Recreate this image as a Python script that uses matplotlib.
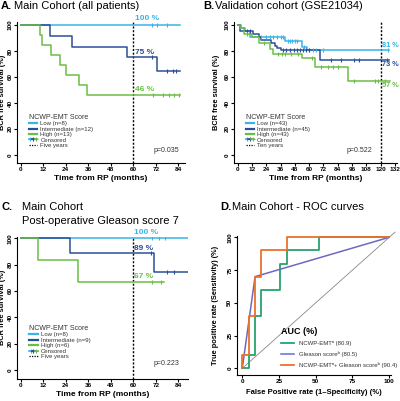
import numpy as np
import matplotlib
matplotlib.use("Agg")
import matplotlib.pyplot as plt
from matplotlib.lines import Line2D
from matplotlib.legend_handler import HandlerTuple

plt.rcParams['font.family'] = ['Liberation Sans', 'DejaVu Sans']

# colours of the three score groups
c_low = '#38b4e8'
c_mid = '#2b4f96'
c_high = '#6cbd45'

# ---- A. main cohort (all patients): drop times / survival levels, censor times
a_low_t = [0]
a_low_s = [100]
a_low_cens = [70, 72.5, 78]
a_low_end = 85

a_mid_t = [0, 15.6, 27.5, 56.5, 72.5]
a_mid_s = [100, 91.7, 83.3, 75.0, 64.3]
a_mid_cens = [70, 78, 81, 83]
a_mid_end = 85

a_high_t = [0, 10.3, 11.2, 16, 21, 24, 31, 35.3]
a_high_s = [100, 92.3, 84.6, 76.9, 69.2, 61.5, 53.8, 46.2]
a_high_cens = [70.5, 76, 79, 82, 84.5]
a_high_end = 85

# ---- B. validation cohort (GSE21034)
b_low_t = [0, 3, 6, 10, 40, 54, 58]
b_low_s = [100, 97.7, 95.3, 90.7, 88.0, 83.0, 80.8]
b_low_cens = [20, 24, 27, 30, 33, 36, 38, 42, 44, 46, 48, 50, 56, 60, 63, 66, 72, 126]
b_low_end = 127

b_mid_t = [0, 2, 13, 18, 20, 28, 31, 33, 36, 69]
b_mid_s = [100, 95.6, 93.3, 91.0, 88.6, 86.2, 84.0, 82.0, 80.4, 72.8]
b_mid_cens = [8, 10, 38, 41, 44, 47, 50, 52, 55, 57, 60, 78, 87, 98, 102, 125]
b_mid_end = 127

b_high_t = [0, 2, 5, 12, 18, 27, 30, 54, 65, 93]
b_high_s = [100, 97.7, 93.0, 90.7, 86.0, 81.4, 77.8, 74.9, 68.0, 56.7]
b_high_cens = [8, 22, 34, 37, 40, 45, 51, 62, 70, 76, 80, 84, 98, 115, 118, 124]
b_high_end = 128

# ---- C. main cohort, post-operative Gleason score 7
c_low_t = [0]
c_low_s = [100]
c_low_cens = [70, 73.5, 77]
c_low_end = 89

c_mid_t = [0, 26.3, 70.8]
c_mid_s = [100, 88.9, 74.1]
c_mid_cens = [69.5, 78, 81.5]
c_mid_end = 89

c_high_t = [0, 9.4, 30.4]
c_high_s = [100, 83.3, 66.7]
c_high_cens = [70, 75]
c_high_end = 76.5

# ---- D. ROC curves
roc_emt_fpr = [0, 4.3, 4.3, 8.7, 8.7, 13, 13, 26, 26, 30.4, 30.4, 52, 52, 100]
roc_emt_tpr = [0, 0, 10, 10, 40, 40, 60, 60, 80, 80, 90, 90, 100, 100]
roc_gl_fpr = [0, 8.7, 100]
roc_gl_tpr = [0, 70, 100]
roc_comb_fpr = [0, 0, 4.3, 4.3, 8.7, 8.7, 13, 13, 30.4, 30.4, 100]
roc_comb_tpr = [0, 10, 10, 40, 40, 70, 70, 90, 90, 100, 100]

W, H = 400, 401
fig = plt.figure(figsize=(4.0, 4.01), dpi=100)


def px_axes(l, t, r, b):
    return fig.add_axes([l / W, 1 - b / H, (r - l) / W, (b - t) / H])


def km(ax, t, s, end, cens, color):
    t = np.array(t, float)
    s = np.array(s, float)
    xs = np.append(t, end)
    ys = np.append(s, s[-1])
    ax.plot(xs, ys, drawstyle='steps-post', color=color, lw=1.1, zorder=3)
    cy = s[np.searchsorted(t, cens, side='right') - 1]
    ax.plot(cens, cy, ls='none', marker='|', ms=3.5, mew=0.8, color=color, zorder=4)


def bold_ticks(ax):
    ax.tick_params(length=2, width=0.8, pad=1.2, labelsize=4.6)
    for lab in ax.get_xticklabels():
        lab.set_fontweight('bold')
    for lab in ax.get_yticklabels():
        lab.set_fontweight('bold')
        lab.set_rotation(90)
        lab.set_va('center')
    for sp in ['top', 'right']:
        ax.spines[sp].set_visible(False)


def style_km(ax, xmax, xticks, ybottom, ytop, ylab_x):
    ax.set_xlim(xticks[0] - 0.021 * xmax, xmax)
    ax.set_ylim(ybottom, ytop)
    ax.set_xticks(xticks)
    ax.set_yticks([0, 20, 40, 60, 80, 100])
    bold_ticks(ax)
    ax.set_ylabel('BCR free survival (%)', fontsize=5.3, fontweight='bold')
    ax.yaxis.set_label_coords(ylab_x, 0.5)
    ax.set_xlabel('Time from RP (months)', fontsize=6, fontweight='bold', labelpad=2)


def km_legend(ax, labels, line_label, anchor):
    hs = [Line2D([], [], color=c_low, lw=1.6),
          Line2D([], [], color=c_mid, lw=1.6),
          Line2D([], [], color=c_high, lw=1.6)]
    cens = (Line2D([], [], color=c_low, lw=1.2, marker='+', ms=3, mew=0.8),
            Line2D([], [], color=c_mid, lw=1.2, marker='+', ms=3, mew=0.8),
            Line2D([], [], color=c_high, lw=1.2, marker='+', ms=3, mew=0.8))
    dot = Line2D([], [], color='black', lw=0.9, ls=(0, (1, 1)))
    leg = ax.legend(hs + [cens, dot], labels + ['Censored', line_label],
                    handler_map={tuple: HandlerTuple(ndivide=None, pad=0)},
                    loc='upper left', bbox_to_anchor=anchor, frameon=False,
                    fontsize=4.3, title='NCWP-EMT Score', title_fontsize=5,
                    alignment='left', labelspacing=0.05, handlelength=1.4,
                    handletextpad=0.5, borderpad=0, borderaxespad=0)
    for tx in leg.get_texts():
        tx.set_color('#333333')
    leg.get_title().set_color('#333333')


# ---------------- A
axA = px_axes(17.3, 22, 185, 163)
km(axA, a_low_t, a_low_s, a_low_end, a_low_cens, c_low)
km(axA, a_mid_t, a_mid_s, a_mid_end, a_mid_cens, c_mid)
km(axA, a_high_t, a_high_s, a_high_end, a_high_cens, c_high)
axA.axvline(60, color='black', lw=1.0, ls=(0, (1.5, 1.2)), zorder=2)
style_km(axA, 87.6, np.arange(0, 85, 12), -6.2, 102.3, -0.07)
axA.text(61, 102.5, '100 %', color=c_low, fontsize=6, fontweight='bold', va='bottom', clip_on=False)
axA.text(61, 76, '75 %', color=c_mid, fontsize=6, fontweight='bold', va='bottom')
axA.text(61, 47.5, '46 %', color=c_high, fontsize=6, fontweight='bold', va='bottom')
axA.text(84.5, 3.3, 'p=0.035', fontsize=5, ha='right', va='center', color='#333333')
km_legend(axA, ['Low (n=8)', 'Intermediate (n=12)', 'High (n=13)'], 'Five years', (0.07, 0.35))

# ---------------- B
axB = px_axes(234.3, 22, 396.7, 163)
km(axB, b_low_t, b_low_s, b_low_end, b_low_cens, c_low)
km(axB, b_mid_t, b_mid_s, b_mid_end, b_mid_cens, c_mid)
km(axB, b_high_t, b_high_s, b_high_end, b_high_cens, c_high)
axB.axvline(120, color='black', lw=1.0, ls=(0, (1.5, 1.2)), zorder=2)
style_km(axB, 133.5, np.arange(0, 133, 12), -6.2, 102.3, -0.085)
axB.text(121, 81.5, '81 %', color=c_low, fontsize=5.3, fontweight='bold', va='bottom')
axB.text(121, 72, '73 %', color=c_mid, fontsize=5.3, fontweight='bold', va='top')
axB.text(121, 56, '57 %', color=c_high, fontsize=5.3, fontweight='bold', va='top')
axB.text(113, 3.3, 'p=0.522', fontsize=5, ha='right', va='center', color='#333333')
km_legend(axB, ['Low (n=43)', 'Intermediate (n=45)', 'High (n=43)'], 'Ten years', (0.07, 0.35))

# ---------------- C
axC = px_axes(17.3, 236.7, 188, 379)
km(axC, c_low_t, c_low_s, c_low_end, c_low_cens, c_low)
km(axC, c_mid_t, c_mid_s, c_mid_end, c_mid_cens, c_mid)
km(axC, c_high_t, c_high_s, c_high_end, c_high_cens, c_high)
axC.axvline(60, color='black', lw=1.0, ls=(0, (1.5, 1.2)), zorder=2)
style_km(axC, 89.2, np.arange(0, 85, 12), -6.8, 101.2, -0.069)
axC.text(60.5, 102, '100 %', color=c_low, fontsize=6, fontweight='bold', va='bottom', clip_on=False)
axC.text(60.5, 89.5, '89 %', color=c_mid, fontsize=6, fontweight='bold', va='bottom')
axC.text(60.5, 68, '67 %', color=c_high, fontsize=6, fontweight='bold', va='bottom')
axC.text(84.5, 5.1, 'p=0.223', fontsize=5, ha='right', va='center', color='#333333')
km_legend(axC, ['Low (n=8)', 'Intermediate (n=9)', 'High (n=6)'], 'Five years', (0.07, 0.38))

# ---------------- D
axD = px_axes(236.7, 236, 390.7, 375)
axD.plot([0, 104], [0, 104], color='#888888', lw=0.6, clip_on=False, zorder=1)
l1, = axD.plot(roc_emt_fpr, roc_emt_tpr, color='#27a36d', lw=1.3, zorder=3)
l2, = axD.plot(roc_gl_fpr, roc_gl_tpr, color='#6d69c1', lw=1.1, zorder=4)
l3, = axD.plot(roc_comb_fpr, roc_comb_tpr, color='#e8722c', lw=1.3, zorder=5)
axD.set_xlim(-3.8, 101)
axD.set_ylim(-5.1, 101)
axD.set_xticks([0, 25, 50, 75, 100])
axD.set_yticks([0, 25, 50, 75, 100])
bold_ticks(axD)
axD.set_ylabel('True positive rate (Sensitivity) (%)', fontsize=5.3, fontweight='bold')
axD.yaxis.set_label_coords(-0.115, 0.5)
axD.set_xlabel('False Positive rate (1\u2013Specificity) (%)', fontsize=5.5, fontweight='bold', labelpad=3)
legD = axD.legend([l1, l2, l3],
                  ['NCWP-EMT\u1d43 (80.9)', 'Gleason score\u1d47 (80.5)',
                   'NCWP-EMT\u1d43+ Gleason score\u1d47 (90.4)'],
                  loc='upper left', bbox_to_anchor=(0.29, 0.345), frameon=False,
                  fontsize=4.3, title='AUC (%)', title_fontsize=6.5, alignment='left',
                  labelspacing=0.85, handlelength=2.1, handletextpad=0.8,
                  borderpad=0, borderaxespad=0)
legD.get_title().set_fontweight('bold')
for tx in legD.get_texts():
    tx.set_color('#333333')


# ---------------- panel titles
def panel_title(x_letter, x_text, y, letter, text):
    fig.text(x_letter / W, 1 - y / H, letter, fontsize=8, fontweight='bold', va='center')
    fig.text(x_text / W, 1 - y / H, text, fontsize=8, va='center')


panel_title(0.5, 14.5, 6, 'A.', 'Main Cohort (all patients)')
panel_title(203, 215, 6, 'B.', 'Validation cohort (GSE21034)')
panel_title(2, 21.7, 207, 'C.', 'Main Cohort')
fig.text(21.7 / W, 1 - 221 / H, 'Post-operative Gleason score 7', fontsize=8, va='center')
panel_title(220, 231.7, 207, 'D.', 'Main Cohort - ROC curves')

fig.savefig('out.png', dpi=100)
